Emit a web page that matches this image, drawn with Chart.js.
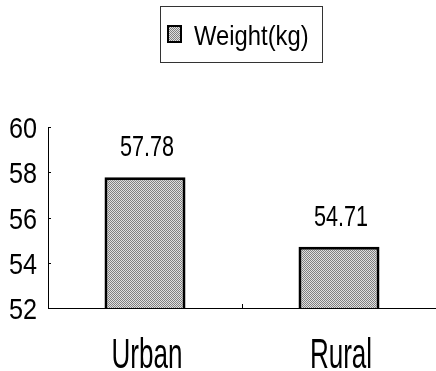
<!DOCTYPE html>
<html>
<head>
<meta charset="utf-8">
<script src="https://cdn.jsdelivr.net/npm/chart.js@4/dist/chart.umd.min.js"></script>
<style>
  html, body { margin: 0; padding: 0; background: #fff; }
  #wrap { width: 436px; height: 371px; }
</style>
</head>
<body>
<div id="wrap"><canvas id="chart" width="436" height="371"></canvas></div>
<script>
const categories = ["Urban", "Rural"];
const weights = [57.78, 54.71];
const seriesLabel = "Weight(kg)";
const yTicks = [52, 54, 56, 58, 60];

const FONT = "'Liberation Sans', Arial, sans-serif";

// halftone-ish gray fill like the scanned bars
function makePattern() {
  const c = document.createElement("canvas");
  c.width = 4;
  c.height = 4;
  const p = c.getContext("2d");
  p.fillStyle = "#e0e0e0";
  p.fillRect(0, 0, 4, 4);
  p.fillStyle = "#808080";
  for (let y = 0; y < 4; y++) {
    for (let x = 0; x < 4; x++) {
      if ((x + y) % 2 === 0) p.fillRect(x, y, 1, 1);
    }
  }
  return p.createPattern(c, "repeat");
}

// squeezed text, the scan uses a very condensed face
function squeezed(c, text, x, y, size, sx, align) {
  c.save();
  c.font = size + "px " + FONT;
  c.textAlign = align;
  c.translate(x, y);
  c.scale(sx, 1);
  c.fillText(text, 0, 0);
  c.restore();
}

const ctx = document.getElementById("chart").getContext("2d");
const barFill = makePattern();

// legend box, labels and the little inner tick marks
const extras = {
  id: "extras",
  afterDraw(chart) {
    const c = chart.ctx;
    const x = chart.scales.x;
    const y = chart.scales.y;
    c.save();
    c.fillStyle = "#000";
    c.textBaseline = "alphabetic";

    // legend
    c.strokeStyle = "#333";
    c.lineWidth = 1;
    c.strokeRect(160.5, 6.5, 162, 56);
    c.save();
    c.fillStyle = barFill;
    c.fillRect(168, 26, 13, 16);
    c.restore();
    c.strokeStyle = "#000";
    c.lineWidth = 2;
    c.strokeRect(168, 26, 13, 16);
    squeezed(c, seriesLabel, 194, 45, 28, 0.85, "left");

    // y tick labels + inner ticks
    c.lineWidth = 1;
    yTicks.forEach((v) => {
      const py = y.getPixelForValue(v);
      squeezed(c, String(v), 37, py + 11, 30, 0.84, "right");
      c.beginPath();
      c.moveTo(x.left, Math.round(py) + 0.5);
      c.lineTo(x.left + 3, Math.round(py) + 0.5);
      c.stroke();
    });

    // middle tick on the x axis
    const mid = Math.round((x.getPixelForValue(0) + x.getPixelForValue(1)) / 2) + 0.5;
    c.beginPath();
    c.moveTo(mid, y.bottom);
    c.lineTo(mid, y.bottom - 4);
    c.stroke();

    // value labels
    const meta = chart.getDatasetMeta(0);
    meta.data.forEach((bar, i) => {
      squeezed(c, weights[i].toFixed(2), bar.x + 2, bar.y - 21, 30, 0.72, "center");
    });

    // category labels
    categories.forEach((cat, i) => {
      squeezed(c, cat, x.getPixelForValue(i) + 2, 368, 42, 0.62, "center");
    });
    c.restore();
  },
};

new Chart(ctx, {
  type: "bar",
  data: {
    labels: categories,
    datasets: [
      {
        label: seriesLabel,
        data: weights,
        backgroundColor: barFill,
        borderColor: "#000",
        borderWidth: 3,
        borderSkipped: false,
        barPercentage: 0.835,
        categoryPercentage: 0.5,
      },
    ],
  },
  options: {
    responsive: false,
    animation: false,
    layout: { padding: { top: 127, right: 0, left: 0, bottom: 0 } },
    plugins: {
      legend: { display: false },
      tooltip: { enabled: false },
    },
    scales: {
      x: {
        grid: { display: false },
        border: { display: true, color: "#000", width: 1 },
        ticks: { display: false },
        afterFit: (scale) => {
          scale.height = 63;
        },
      },
      y: {
        min: 52,
        max: 60,
        afterBuildTicks: (scale) => {
          scale.ticks = yTicks.map((v) => ({ value: v }));
        },
        grid: { display: false },
        border: { display: true, color: "#000", width: 1 },
        ticks: { display: false },
        afterFit: (scale) => {
          scale.width = 48;
        },
      },
    },
  },
  plugins: [extras],
});
</script>
</body>
</html>
